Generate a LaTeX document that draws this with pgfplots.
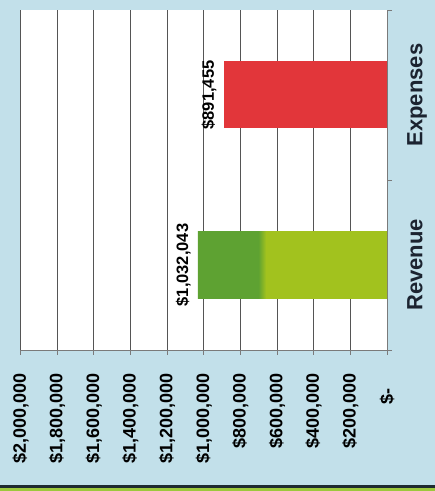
\documentclass[border=0pt]{standalone}
\usepackage{fontspec}
\setmainfont{Liberation Sans}
\usepackage{pgfplots}
\pgfplotsset{compat=1.18}

\definecolor{bgblue}{HTML}{C2E0EA}
\definecolor{expred}{HTML}{E2363A}
\definecolor{revlight}{HTML}{A2C21E}
\definecolor{revdark}{HTML}{5EA232}
\definecolor{labelnavy}{HTML}{1B2330}
\definecolor{gridgray}{HTML}{555555}
\definecolor{axisgray}{HTML}{7A7A7A}
\definecolor{stripgreen}{HTML}{9CC83C}
\definecolor{stripdark}{HTML}{1E2A30}

% two-tone fill of the revenue bar (dark at the far end);
% the path is mapped onto the 25bp--75bp band of the shading
\pgfdeclarehorizontalshading{revshade}{100bp}{%
  color(0bp)=(revdark); color(41bp)=(revdark);
  color(43bp)=(revlight); color(100bp)=(revlight)}

\begin{document}
\begin{tikzpicture}[x=1bp,y=1bp]
  % page background and lower rule
  \fill[bgblue] (0,0) rectangle (435,491);
  \fill[stripgreen] (0,0) rectangle (435,3);
  \fill[stripdark] (0,3) rectangle (435,5.5);
  \useasboundingbox (0,0) rectangle (435,491);

  \begin{axis}[
    at={(20.5bp,141bp)}, anchor=south west,
    scale only axis, width=366.5bp, height=340bp,
    axis background/.style={fill=white},
    xbar, x dir=reverse,
    xmin=0, xmax=2000000,
    ymin=-0.5, ymax=1.5,
    bar width=0.394,
    scaled x ticks=false,
    /pgf/number format/assume math mode=true,
    axis x line*=bottom,
    axis y line*=right,
    axis line style={axisgray, line width=0.9bp},
    tick style={axisgray, line width=0.9bp},
    major tick length=5bp,
    tick align=outside,
    xtick={0,200000,...,2000000},
    % accounting-style zero keeps its trailing padding
    xticklabels={{\$-\rule{15bp}{0pt}},{\$200,000},{\$400,000},{\$600,000},{\$800,000},
      {\$1,000,000},{\$1,200,000},{\$1,400,000},{\$1,600,000},{\$1,800,000},{\$2,000,000}},
    xticklabel style={rotate=90, anchor=east, inner xsep=18bp,
      font=\fontsize{18bp}{20bp}\selectfont\bfseries, text=black},
    xmajorgrids,
    major grid style={gridgray, line width=0.9bp},
    ytick={-0.5,0.5,1.5},
    yticklabels={},
    extra y ticks={0,1},
    extra y tick labels={Revenue,Expenses},
    extra y tick style={major tick length=0pt,
      yticklabel style={rotate=90, anchor=north, inner ysep=20bp,
        font=\fontsize{22bp}{24bp}\selectfont\bfseries, text=labelnavy}},
    point meta=rawx,
    nodes near coords={\$\pgfmathprintnumber[fixed,precision=0,1000 sep={,}]{\pgfplotspointmeta}},
    nodes near coords style={rotate=90, anchor=south, inner ysep=7bp,
      font=\fontsize{16.5bp}{18bp}\selectfont\bfseries, text=black},
  ]
    \addplot[draw=none, shading=revshade, bar shift=0pt]
      coordinates {(1032043,0)};
    \addplot[draw=none, fill=expred, bar shift=0pt]
      coordinates {(891455,1)};
  \end{axis}
\end{tikzpicture}
\end{document}
